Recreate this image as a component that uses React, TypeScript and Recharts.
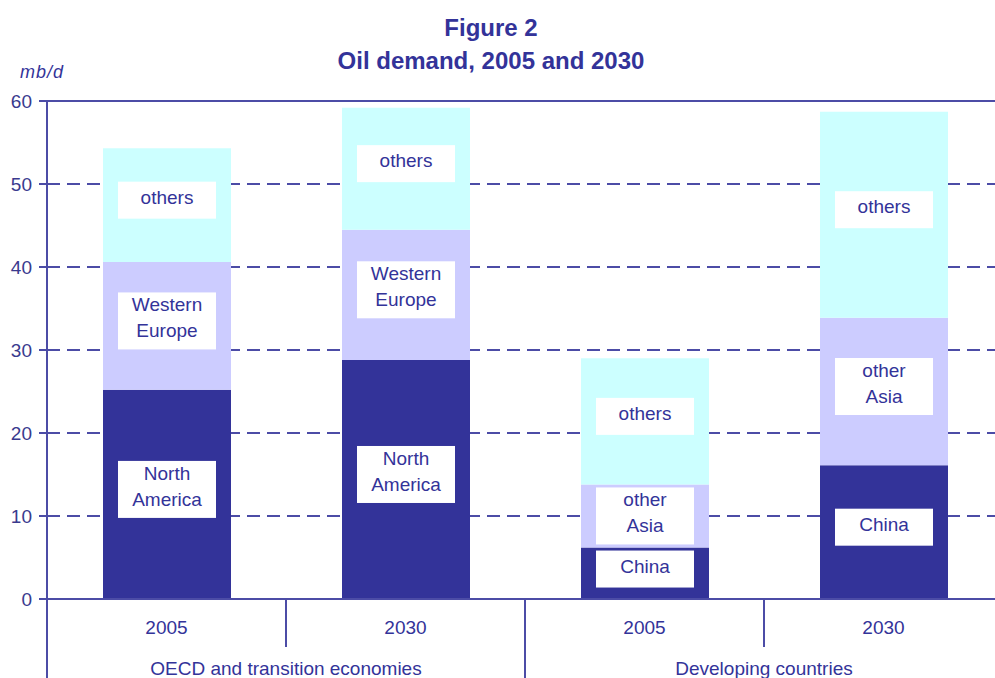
import { BarChart, Bar, XAxis, YAxis, CartesianGrid, ReferenceLine, LabelList } from 'recharts';

// Oil demand, mb/d
const years = ['2005', '2030', '2005', '2030'];
const groups = ['OECD and transition economies', 'Developing countries'];
const bottomValues = [25.2, 28.8, 6.2, 16.1];
const middleValues = [15.4, 15.7, 7.6, 17.8];
const topValues = [13.7, 14.7, 15.2, 24.8];
const bottomNames = ['North America', 'North America', 'China', 'China'];
const middleNames = ['Western Europe', 'Western Europe', 'other Asia', 'other Asia'];
const topNames = ['others', 'others', 'others', 'others'];
const yTicks = [0, 10, 20, 30, 40, 50, 60];

const NAVY = '#333399';
const LINE = '#4c4ca6';
const FONT = '"Liberation Sans", Arial, sans-serif';

const CHART_W = 1010;
const CHART_H = 678;
const MARGIN = { top: 101, right: 7, bottom: 0, left: 0 };
const Y_W = 47;
const X_H = 79;
const PLOT_BOTTOM = CHART_H - X_H;
const BAND = (CHART_W - MARGIN.right - Y_W) / years.length;

const data = years.map((year, i) => ({
  id: i,
  year,
  bottom: bottomValues[i],
  middle: middleValues[i],
  top: topValues[i],
  bottomName: bottomNames[i],
  middleName: middleNames[i],
  topName: topNames[i],
}));

function SegmentLabel(props: any) {
  const { x, y, width, height, value } = props;
  const lines = String(value).split(' ');
  const boxH = lines.length > 1 ? 57 : 37;
  const shift = Math.max(0, Math.min(5, (height - boxH) / 2 - 3));
  const cx = x + width / 2;
  const cy = y + height / 2 - shift;
  return (
    <g>
      <rect x={cx - 49} y={cy - boxH / 2} width={98} height={boxH} fill="#ffffff" />
      {lines.map((ln, i) => (
        <text
          key={i}
          x={cx}
          y={cy + (i - (lines.length - 1) / 2) * 26 - 3}
          textAnchor="middle"
          dominantBaseline="central"
          fontSize={19}
          fontFamily={FONT}
          fill={NAVY}
        >
          {ln}
        </text>
      ))}
    </g>
  );
}

function YearTick(props: any) {
  const { x, index } = props;
  const half = BAND / 2;
  const last = index === years.length - 1;
  return (
    <g>
      <text x={x} y={PLOT_BOTTOM + 28} textAnchor="middle" dominantBaseline="central"
        fontSize={19} fontFamily={FONT} fill={NAVY}>
        {years[index]}
      </text>
      {index === 0 && (
        <line x1={x - half} x2={x - half} y1={PLOT_BOTTOM} y2={CHART_H} stroke={LINE} strokeWidth={2} />
      )}
      {!last && (
        <line x1={x + half} x2={x + half} y1={PLOT_BOTTOM}
          y2={index % 2 === 1 ? CHART_H : PLOT_BOTTOM + 48} stroke={LINE} strokeWidth={2} />
      )}
      {index % 2 === 0 && (
        <text x={x + half} y={PLOT_BOTTOM + 69} textAnchor="middle" dominantBaseline="central"
          fontSize={19} fontFamily={FONT} fill={NAVY}>
          {groups[index / 2]}
        </text>
      )}
    </g>
  );
}

export default function App() {
  return (
    <div style={{ position: 'fixed', left: 0, top: 0, width: 995, height: 678, overflow: 'hidden', background: '#fff', fontFamily: FONT }}>
      <div style={{ position: 'absolute', left: 0, top: 16, width: 982, textAlign: 'center', fontSize: 24, lineHeight: '24px', fontWeight: 'bold', color: NAVY }}>
        Figure 2
      </div>
      <div style={{ position: 'absolute', left: 0, top: 49, width: 982, textAlign: 'center', fontSize: 24, lineHeight: '24px', fontWeight: 'bold', color: NAVY }}>
        Oil demand, 2005 and 2030
      </div>
      <div style={{ position: 'absolute', left: 20, top: 62, fontSize: 18, lineHeight: '20px', fontStyle: 'italic', letterSpacing: 1, color: NAVY }}>
        mb/d
      </div>
      <div style={{ position: 'absolute', left: 0, top: 0 }}>
        <BarChart width={CHART_W} height={CHART_H} data={data} margin={MARGIN} barSize={128}>
          <CartesianGrid vertical={false} stroke={LINE} strokeWidth={2} strokeDasharray="13 7" />
          <XAxis
            dataKey="id"
            height={X_H}
            interval={0}
            tickLine={false}
            axisLine={{ stroke: LINE, strokeWidth: 2 }}
            tick={<YearTick />}
          />
          <YAxis
            width={Y_W}
            domain={[0, 60]}
            ticks={yTicks}
            interval={0}
            tickSize={8}
            tickMargin={7}
            axisLine={{ stroke: LINE, strokeWidth: 2 }}
            tickLine={{ stroke: LINE, strokeWidth: 2 }}
            tick={{ fill: '#3a3a8e', fontSize: 19, fontFamily: FONT }}
          />
          <ReferenceLine y={60} stroke={LINE} strokeWidth={2} />
          <Bar dataKey="bottom" stackId="a" fill={NAVY} isAnimationActive={false}>
            <LabelList dataKey="bottomName" content={<SegmentLabel />} />
          </Bar>
          <Bar dataKey="middle" stackId="a" fill="#ccccff" isAnimationActive={false}>
            <LabelList dataKey="middleName" content={<SegmentLabel />} />
          </Bar>
          <Bar dataKey="top" stackId="a" fill="#ccffff" isAnimationActive={false}>
            <LabelList dataKey="topName" content={<SegmentLabel />} />
          </Bar>
        </BarChart>
      </div>
    </div>
  );
}
